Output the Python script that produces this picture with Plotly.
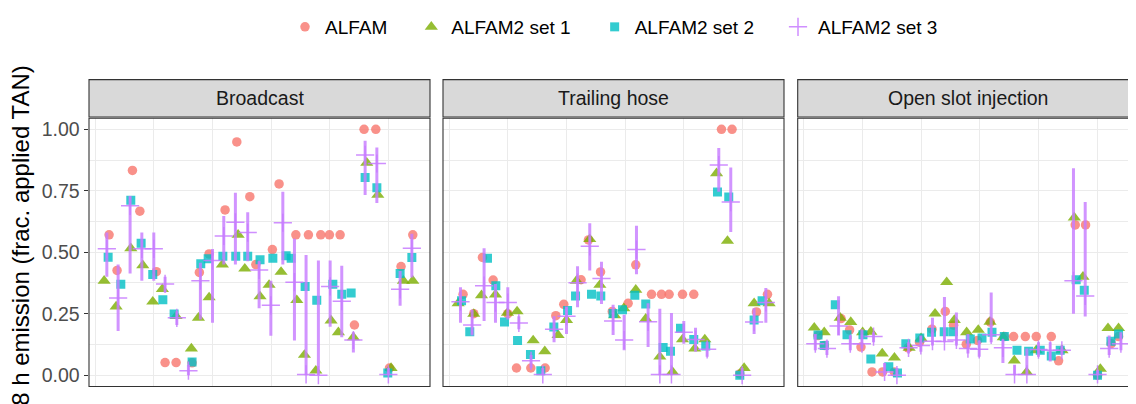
import plotly.graph_objects as go

# ---------------- data ----------------
facets = ["Broadcast", "Trailing hose", "Open slot injection"]
series_names = ["ALFAM", "ALFAM2 set 1", "ALFAM2 set 2", "ALFAM2 set 3"]
y_tick_vals = [0.0, 0.25, 0.5, 0.75, 1.0]
y_tick_text = ["0.00", "0.25", "0.50", "0.75", "1.00"]

# Broadcast
bc_alfam_x = [1.19, 1.87, 3.18, 3.81, 5.22, 5.96, 6.90, 8.26, 8.88, 9.71, 11.07, 12.07, 13.18, 13.69, 15.10, 15.67, 17.10, 18.17, 19.22, 19.96, 20.87, 22.09, 22.91, 23.91, 25.07, 26.06, 27.06]
bc_alfam_y = [0.571, 0.426, 0.833, 0.667, 0.421, 0.051, 0.051, 0.050, 0.418, 0.493, 0.672, 0.949, 0.726, 0.450, 0.511, 0.778, 0.571, 0.571, 0.571, 0.571, 0.571, 0.204, 1.000, 1.000, 0.029, 0.442, 0.571]
bc_set1_x = [0.77, 1.79, 3.04, 4.06, 4.91, 5.73, 6.90, 8.20, 8.80, 9.71, 10.84, 12.18, 12.75, 14.05, 14.82, 15.84, 17.18, 17.83, 18.80, 20.10, 20.72, 22.00, 23.14, 24.08, 25.21, 26.26, 27.06]
bc_set1_y = [0.384, 0.279, 0.516, 0.447, 0.299, 0.350, 0.240, 0.108, 0.233, 0.316, 0.450, 0.571, 0.433, 0.320, 0.367, 0.420, 0.305, 0.082, 0.018, 0.222, 0.174, 0.154, 0.864, 0.733, 0.029, 0.384, 0.384]
bc_set2_x = [1.11, 2.19, 3.04, 3.92, 4.91, 5.77, 6.73, 8.26, 9.00, 9.63, 10.88, 11.98, 13.00, 14.05, 15.14, 16.27, 16.70, 17.89, 18.88, 20.25, 21.01, 21.81, 23.00, 24.00, 24.93, 25.98, 26.98]
bc_set2_y = [0.480, 0.370, 0.712, 0.537, 0.409, 0.307, 0.249, 0.053, 0.453, 0.474, 0.484, 0.484, 0.484, 0.469, 0.476, 0.486, 0.476, 0.361, 0.305, 0.370, 0.329, 0.334, 0.804, 0.762, 0.009, 0.413, 0.479]
bc_set3_x = [1.00, 1.96, 2.98, 3.98, 5.00, 5.96, 6.96, 7.95, 8.97, 10.00, 10.96, 11.95, 13.00, 13.97, 14.97, 15.99, 16.98, 17.97, 19.02, 20.02, 21.01, 22.00, 23.00, 24.00, 24.98, 25.98, 26.98]
bc_set3_y = [0.514, 0.314, 0.689, 0.514, 0.514, 0.371, 0.233, 0.018, 0.384, 0.466, 0.566, 0.622, 0.580, 0.428, 0.284, 0.620, 0.378, 0.003, 0.000, 0.361, 0.301, 0.143, 0.896, 0.861, 0.003, 0.349, 0.516]
bc_set3_lo = [0.400, 0.180, 0.413, 0.384, 0.384, 0.337, 0.204, 0.000, 0.226, 0.213, 0.450, 0.450, 0.463, 0.272, 0.160, 0.450, 0.141, 0.000, 0.000, 0.197, 0.154, 0.092, 0.733, 0.700, 0.000, 0.282, 0.397]
bc_set3_hi = [0.580, 0.450, 0.729, 0.580, 0.580, 0.400, 0.260, 0.042, 0.457, 0.513, 0.647, 0.742, 0.663, 0.463, 0.384, 0.746, 0.555, 0.489, 0.466, 0.466, 0.445, 0.174, 0.954, 0.926, 0.030, 0.424, 0.575]

# Trailing hose
th_alfam_x = [1.19, 2.10, 2.84, 3.75, 5.00, 5.74, 6.96, 8.18, 9.09, 9.77, 11.24, 11.87, 12.90, 13.90, 15.25, 15.90, 17.24, 18.09, 18.74, 19.88, 20.84, 23.20, 24.10, 24.76, 26.18, 27.12]
th_alfam_y = [0.329, 0.250, 0.479, 0.387, 0.250, 0.029, 0.029, 0.029, 0.242, 0.288, 0.388, 0.550, 0.420, 0.259, 0.292, 0.449, 0.329, 0.329, 0.329, 0.329, 0.329, 1.000, 1.000, 0.005, 0.257, 0.329]
th_set1_x = [0.77, 2.10, 2.76, 3.95, 4.97, 5.79, 7.16, 8.15, 9.28, 10.00, 10.85, 11.98, 12.84, 14.10, 14.88, 15.90, 16.75, 17.95, 19.03, 19.88, 20.93, 21.78, 22.78, 23.71, 25.13, 25.98, 27.26]
th_set1_y = [0.292, 0.249, 0.325, 0.328, 0.253, 0.259, 0.141, 0.097, 0.163, 0.224, 0.384, 0.553, 0.367, 0.243, 0.272, 0.347, 0.229, 0.075, 0.013, 0.145, 0.108, 0.145, 0.821, 0.546, 0.029, 0.292, 0.292]
th_set2_x = [1.06, 1.76, 3.27, 3.98, 4.72, 5.83, 6.93, 7.81, 8.92, 10.09, 10.77, 12.13, 12.92, 13.97, 14.77, 15.82, 16.75, 18.23, 18.86, 19.71, 20.84, 21.86, 22.86, 23.82, 24.76, 25.98, 26.66]
th_set2_y = [0.303, 0.176, 0.476, 0.364, 0.216, 0.141, 0.084, 0.018, 0.196, 0.263, 0.322, 0.329, 0.322, 0.251, 0.266, 0.325, 0.289, 0.112, 0.097, 0.191, 0.145, 0.118, 0.745, 0.725, 0.000, 0.224, 0.303]
th_set3_x = [0.97, 1.96, 2.98, 3.95, 5.00, 5.94, 6.98, 7.98, 8.94, 10.00, 10.94, 11.98, 12.98, 13.97, 14.91, 15.96, 16.95, 17.95, 18.94, 19.99, 20.99, 21.98, 22.97, 23.99, 24.96, 25.98, 26.98]
th_set3_y = [0.299, 0.204, 0.364, 0.295, 0.295, 0.212, 0.058, 0.003, 0.187, 0.240, 0.376, 0.524, 0.393, 0.220, 0.143, 0.511, 0.217, 0.003, 0.003, 0.174, 0.145, 0.105, 0.855, 0.704, 0.000, 0.216, 0.296]
th_set3_lo = [0.213, 0.161, 0.220, 0.213, 0.226, 0.187, 0.029, 0.000, 0.134, 0.167, 0.276, 0.426, 0.289, 0.163, 0.101, 0.410, 0.114, 0.000, 0.000, 0.128, 0.095, 0.075, 0.746, 0.582, 0.000, 0.167, 0.213]
th_set3_hi = [0.358, 0.266, 0.516, 0.371, 0.358, 0.240, 0.082, 0.029, 0.240, 0.279, 0.443, 0.618, 0.461, 0.286, 0.246, 0.608, 0.292, 0.270, 0.253, 0.220, 0.193, 0.134, 0.924, 0.845, 0.029, 0.272, 0.355]

# Open slot injection
os_alfam_x = [1.21, 1.74, 3.17, 3.90, 4.87, 5.81, 6.71, 7.71, 8.88, 9.86, 10.92, 12.05, 12.76, 13.84, 14.80, 15.89, 17.08, 17.87, 18.87, 19.80, 21.08, 21.70, 23.12, 24.00, 25.02, 26.19, 26.81]
os_alfam_y = [0.161, 0.121, 0.230, 0.184, 0.114, 0.013, 0.013, 0.013, 0.111, 0.134, 0.187, 0.259, 0.203, 0.126, 0.141, 0.216, 0.157, 0.157, 0.157, 0.157, 0.157, 0.058, 0.611, 0.611, 0.000, 0.128, 0.157]
os_set1_x = [0.89, 1.74, 3.10, 4.00, 5.01, 5.71, 6.68, 7.72, 8.97, 9.99, 11.18, 12.17, 12.82, 13.87, 14.86, 15.86, 16.99, 17.93, 18.98, 19.80, 21.99, 23.04, 23.78, 25.26, 25.91, 26.81]
os_set1_y = [0.193, 0.174, 0.233, 0.216, 0.174, 0.176, 0.088, 0.071, 0.111, 0.150, 0.250, 0.378, 0.224, 0.174, 0.184, 0.217, 0.154, 0.059, 0.012, 0.101, 0.101, 0.641, 0.400, 0.025, 0.191, 0.191]
os_set2_x = [1.21, 1.74, 2.68, 3.68, 5.04, 5.71, 7.24, 7.98, 8.69, 9.88, 10.88, 11.96, 12.74, 14.18, 15.18, 16.03, 17.08, 18.16, 19.15, 20.14, 21.08, 21.84, 23.20, 23.89, 25.02, 26.16, 26.81]
os_set2_y = [0.163, 0.121, 0.286, 0.164, 0.164, 0.066, 0.034, 0.009, 0.128, 0.151, 0.174, 0.176, 0.176, 0.147, 0.151, 0.174, 0.157, 0.101, 0.097, 0.101, 0.078, 0.101, 0.388, 0.345, 0.000, 0.138, 0.167]
os_set3_x = [0.98, 1.97, 2.96, 3.96, 4.95, 5.94, 6.88, 7.93, 8.92, 9.97, 10.96, 11.98, 13.00, 13.98, 14.94, 15.96, 16.96, 17.95, 19.00, 19.99, 20.99, 21.98, 22.97, 23.97, 25.02, 26.01, 27.01]
os_set3_y = [0.128, 0.108, 0.200, 0.128, 0.128, 0.157, 0.013, 0.000, 0.111, 0.121, 0.138, 0.137, 0.143, 0.108, 0.105, 0.164, 0.111, 0.003, 0.003, 0.104, 0.101, 0.101, 0.384, 0.322, 0.003, 0.108, 0.128]
os_set3_lo = [0.101, 0.082, 0.161, 0.101, 0.108, 0.134, 0.000, 0.000, 0.088, 0.095, 0.121, 0.134, 0.121, 0.088, 0.075, 0.134, 0.049, 0.000, 0.000, 0.075, 0.055, 0.082, 0.250, 0.239, 0.000, 0.082, 0.101]
os_set3_hi = [0.167, 0.141, 0.321, 0.161, 0.187, 0.174, 0.049, 0.029, 0.134, 0.161, 0.233, 0.318, 0.255, 0.167, 0.141, 0.336, 0.145, 0.042, 0.108, 0.134, 0.134, 0.121, 0.842, 0.704, 0.022, 0.161, 0.174]

# ---------------- styling / layout ----------------
W, H = 1136, 404
OFF = 8.0  # page body margin: reference pixel -> figure pixel
FONT = "Liberation Sans, Arial, Helvetica, sans-serif"
col_alfam = "#F8766D"
col_set1 = "#7CAE00"
col_set2 = "#00BFC4"
col_set3 = "#C77CFF"


def fx(px):
    return (px - OFF) / W


def fy(py):
    return 1 - (py - OFF) / H


# panel pixel boxes in reference coordinates (left, right); plot area top/bottom
panel_px = [(89.0, 430.0), (443.0, 784.0), (797.7, 1138.7)]
top_px, bot_px = 109.3, 385.7
strip_top_px, strip_bot_px = 69.5, 108.0
px_per_unit = 11.74
x_left = -0.52

panels = [
    (bc_alfam_x, bc_alfam_y, bc_set1_x, bc_set1_y, bc_set2_x, bc_set2_y, bc_set3_x, bc_set3_y, bc_set3_lo, bc_set3_hi),
    (th_alfam_x, th_alfam_y, th_set1_x, th_set1_y, th_set2_x, th_set2_y, th_set3_x, th_set3_y, th_set3_lo, th_set3_hi),
    (os_alfam_x, os_alfam_y, os_set1_x, os_set1_y, os_set2_x, os_set2_y, os_set3_x, os_set3_y, os_set3_lo, os_set3_hi),
]

pad = "\u2003"
fig = go.Figure()
for i, (ax, ay, s1x, s1y, s2x, s2y, s3x, s3y, s3lo, s3hi) in enumerate(panels):
    xa = "x" if i == 0 else f"x{i+1}"
    ya = "y" if i == 0 else f"y{i+1}"
    show = i == 0
    fig.add_trace(go.Scatter(x=ax, y=ay, mode="markers", name=series_names[0] + pad, legendgroup="a",
                             showlegend=show, xaxis=xa, yaxis=ya,
                             marker=dict(symbol="circle", size=9.5, color=col_alfam, opacity=0.8, line=dict(width=0))))
    fig.add_trace(go.Scatter(x=s1x, y=s1y, mode="markers", name=series_names[1] + pad, legendgroup="b",
                             showlegend=show, xaxis=xa, yaxis=ya,
                             marker=dict(symbol="triangle-up", size=11.5, color=col_set1, opacity=0.8, line=dict(width=0))))
    fig.add_trace(go.Scatter(x=s2x, y=s2y, mode="markers", name=series_names[2] + pad, legendgroup="c",
                             showlegend=show, xaxis=xa, yaxis=ya,
                             marker=dict(symbol="square", size=9, color=col_set2, opacity=0.8, line=dict(width=0))))
    err_up = [h - v for h, v in zip(s3hi, s3y)]
    err_dn = [v - l for v, l in zip(s3y, s3lo)]
    fig.add_trace(go.Scatter(x=s3x, y=s3y, mode="markers", name=series_names[3], legendgroup="d",
                             showlegend=show, xaxis=xa, yaxis=ya,
                             error_y=dict(type="data", symmetric=False, array=err_up, arrayminus=err_dn,
                                          color="rgba(199,124,255,0.82)", thickness=3, width=0),
                             marker=dict(symbol="cross-thin", size=13, color=col_set3, opacity=0.85,
                                         line=dict(width=1.5, color=col_set3))))

layout = dict(
    width=W, height=H,
    margin=dict(l=0, r=0, t=0, b=0),
    paper_bgcolor="white", plot_bgcolor="white",
    font=dict(family=FONT, size=19, color="#000000"),
    legend=dict(orientation="h", x=fx(614), xanchor="center", y=fy(15), yanchor="middle",
                font=dict(size=19, color="#000000"), bgcolor="rgba(0,0,0,0)", itemwidth=30),
    showlegend=True,
)

shapes = []
annotations = []
ydom = [fy(bot_px), fy(top_px)]
for i, (l, r) in enumerate(panel_px):
    key = "" if i == 0 else str(i + 1)
    width_px = r - l
    xr = [x_left, x_left + width_px / px_per_unit]
    layout["xaxis" + key] = dict(
        domain=[fx(l), fx(r)], range=xr, anchor="y" + key,
        showticklabels=False, ticks="", tick0=0, dtick=10,
        showgrid=True, gridcolor="#EBEBEB", gridwidth=1.1, zeroline=False, showline=False,
        minor=dict(tick0=0, dtick=5, showgrid=True, gridcolor="#EBEBEB", gridwidth=0.55),
        fixedrange=True,
    )
    layout["yaxis" + key] = dict(
        domain=ydom, range=[-0.0462, 1.045], anchor="x" + key,
        tickvals=y_tick_vals, ticktext=y_tick_text, showticklabels=(i == 0),
        ticks="outside" if i == 0 else "", ticklen=4.5, tickwidth=1.1, tickcolor="#333333",
        tickfont=dict(size=19.5, color="#4D4D4D", family=FONT),
        showgrid=True, gridcolor="#EBEBEB", gridwidth=1.1, zeroline=False, showline=False,
        minor=dict(dtick=0.125, tick0=0, showgrid=True, gridcolor="#EBEBEB", gridwidth=0.55),
        fixedrange=True,
    )
    # panel border
    shapes.append(dict(type="rect", xref="paper", yref="paper",
                       x0=fx(l), x1=fx(r), y0=ydom[0], y1=ydom[1],
                       line=dict(color="#333333", width=1.1), fillcolor="rgba(0,0,0,0)", layer="above"))
    # strip
    shapes.append(dict(type="rect", xref="paper", yref="paper",
                       x0=fx(l), x1=fx(r), y0=fy(strip_bot_px), y1=fy(strip_top_px),
                       line=dict(color="#333333", width=1.1), fillcolor="#D9D9D9", layer="above"))
    annotations.append(dict(text=facets[i], xref="paper", yref="paper", x=fx((l + r) / 2),
                            y=fy((strip_top_px + strip_bot_px) / 2), xanchor="center", yanchor="middle",
                            showarrow=False, font=dict(size=19.5, color="#1A1A1A", family=FONT)))

annotations.append(dict(text="48 h emission (frac. applied TAN)", xref="paper", yref="paper",
                        x=fx(20), y=fy(237), textangle=-90, xanchor="center", yanchor="middle",
                        showarrow=False, font=dict(size=24, color="#000000", family=FONT)))

layout["shapes"] = shapes
layout["annotations"] = annotations
fig.update_layout(**layout)
fig.write_html("out.html")
